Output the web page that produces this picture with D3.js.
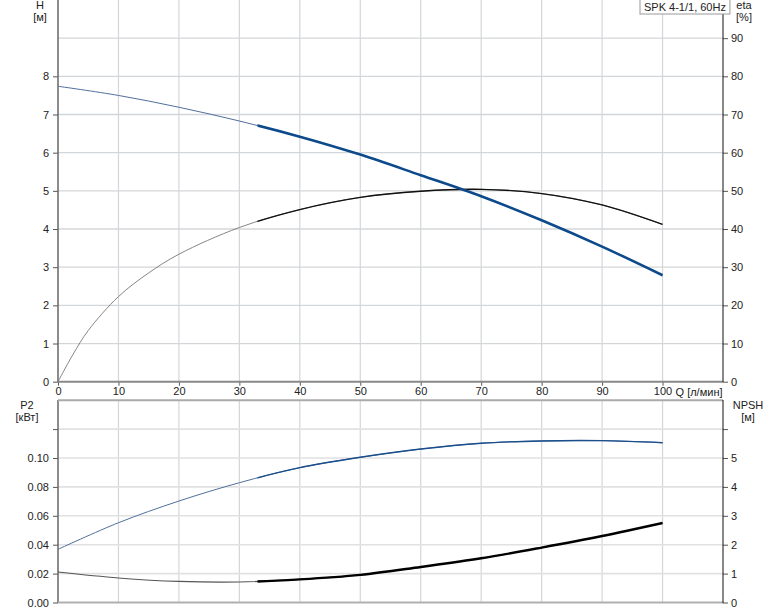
<!DOCTYPE html>
<html><head><meta charset="utf-8">
<script src="https://cdn.jsdelivr.net/npm/d3@7"></script>
<style>
body{margin:0;background:#fff;}
svg{display:block;font-family:"Liberation Sans",Arial,sans-serif;}
</style></head>
<body>
<svg id="c" width="774" height="611"></svg>
<script>
// ---- data ----
const qTicks = [0,10,20,30,40,50,60,70,80,90,100];
const qValues = [0,10,20,30,40,50,60,70,80,90,100];
const headValues = [7.74,7.50,7.19,6.83,6.42,5.95,5.41,4.86,4.23,3.54,2.79];
const etaQ = [0,2.5,5,10,15,20,30,40,50,60,70,80,90,100];
const etaValues = [0,7.2,13.4,22.3,28.5,33.4,40.4,45.1,48.3,49.9,50.4,49.3,46.3,41.2];
const p2Values = [0.0368,0.0552,0.0702,0.0829,0.0933,0.1005,0.1062,0.1102,0.1118,0.1120,0.1106];
const npshValues = [1.055,0.85,0.73,0.71,0.80,0.955,1.23,1.53,1.90,2.30,2.75];
const opStart = 33; // start of the bold operating range
const hTicks = [0,1,2,3,4,5,6,7,8];
const etaTicks = [0,10,20,30,40,50,60,70,80,90];
const p2Ticks = [0,0.02,0.04,0.06,0.08,0.10,0.12];
const npshTicks = [0,1,2,3,4,5,6];
const title = "SPK 4-1/1, 60Hz";

// ---- layout ----
const svg = d3.select("#c");
const L = 58, R = 723;
const x = d3.scaleLinear().domain([0,110]).range([L, R]);
const yH = d3.scaleLinear().domain([0,10]).range([381.7, 0]);
const yEta = d3.scaleLinear().domain([0,100]).range([381.7, 0]);
const yP2 = d3.scaleLinear().domain([0,0.14]).range([602.5, 400.2]);
const yN = d3.scaleLinear().domain([0,7]).range([602.5, 400.2]);

const gridC = "#d3d6d9";
function vgrid(y0,y1){
  svg.append("g").selectAll("line").data(qTicks.filter(d=>d>0)).join("line")
    .attr("x1",d=>x(d)).attr("x2",d=>x(d)).attr("y1",y0).attr("y2",y1)
    .attr("stroke",gridC).attr("stroke-width",1.2);
}
vgrid(0,381.7); vgrid(400,602.5);
svg.append("g").selectAll("line").data(d3.range(1,10)).join("line")
  .attr("x1",L).attr("x2",R).attr("y1",d=>yH(d)).attr("y2",d=>yH(d))
  .attr("stroke",gridC).attr("stroke-width",1.3);
svg.append("g").selectAll("line").data(npshTicks.filter(d=>d>0)).join("line")
  .attr("x1",L).attr("x2",R).attr("y1",d=>yN(d)).attr("y2",d=>yN(d))
  .attr("stroke","#e1e1e1").attr("stroke-width",1.6);

const fs = "11px";
function styleAxis(g){
  g.select(".domain").remove();
  g.selectAll(".tick line").attr("stroke","#555");
  g.selectAll("text").attr("font-size",fs).attr("fill","#222").attr("font-family","Liberation Sans, Arial, sans-serif");
}
function leftAxis(scale, ticks, fmt, labelSkip){
  styleAxis(svg.append("g").attr("transform",`translate(${L},0)`)
    .call(d3.axisLeft(scale).tickValues(ticks).tickSize(5).tickPadding(4)
      .tickFormat(d=>labelSkip.includes(d)?"":fmt(d))));
}
function rightAxis(scale, ticks, fmt, labelSkip){
  styleAxis(svg.append("g").attr("transform",`translate(${R},0)`)
    .call(d3.axisRight(scale).tickValues(ticks).tickSize(5).tickPadding(3)
      .tickFormat(d=>labelSkip.includes(d)?"":fmt(d))));
}
leftAxis(yH, hTicks, d3.format("d"), []);
rightAxis(yEta, etaTicks, d3.format("d"), []);
leftAxis(yP2, p2Ticks, d3.format(".2f"), [0.12]);
rightAxis(yN, npshTicks, d3.format("d"), [6]);

styleAxis(svg.append("g").attr("transform","translate(0,381.7)")
  .call(d3.axisBottom(x).tickValues(qTicks).tickSize(4).tickPadding(2).tickFormat(d3.format("d"))));
svg.append("text").attr("x",x(100)+13).attr("y",396).attr("font-size",fs).attr("fill","#222").text("Q [л/мин]");

// axis lines
svg.append("line").attr("x1",L).attr("x2",L).attr("y1",0).attr("y2",382).attr("stroke","#666").attr("stroke-width",1.5);
svg.append("line").attr("x1",L).attr("x2",R).attr("y1",381.7).attr("y2",381.7).attr("stroke","#888").attr("stroke-width",2);
svg.append("line").attr("x1",R).attr("x2",R).attr("y1",0).attr("y2",382).attr("stroke","#111").attr("stroke-width",1);
svg.append("line").attr("x1",L).attr("x2",L).attr("y1",400).attr("y2",603).attr("stroke","#666").attr("stroke-width",1.5);
svg.append("line").attr("x1",L).attr("x2",R).attr("y1",400.2).attr("y2",400.2).attr("stroke","#aaa").attr("stroke-width",2);
svg.append("line").attr("x1",L).attr("x2",R).attr("y1",602.5).attr("y2",602.5).attr("stroke","#b0b0b0").attr("stroke-width",2);
svg.append("line").attr("x1",R).attr("x2",R).attr("y1",400).attr("y2",603).attr("stroke","#111").attr("stroke-width",1);

function t(xp,yp,s,anchor){svg.append("text").attr("x",xp).attr("y",yp).attr("font-size",fs).attr("fill","#222").attr("text-anchor",anchor||"middle").text(s);}
t(40,9,"H"); t(40,21,"[м]");
t(744,9,"eta"); t(744,21,"[%]");
t(27,409,"P2"); t(27,421,"[кВт]");
t(748,409,"NPSH"); t(748,421,"[м]");

const lb = svg.append("g");
const lt = lb.append("text").attr("x",644).attr("y",11).attr("font-size",fs).attr("fill","#222").text(title);
const bb = lt.node().getBBox();
lb.insert("rect","text").attr("x",bb.x-4).attr("y",-1).attr("width",bb.width+8).attr("height",15)
  .attr("fill","#fff").attr("stroke","#999").attr("stroke-width",1);

svg.append("clipPath").attr("id","op").append("rect")
  .attr("x",x(opStart)).attr("y",0).attr("width",x(100)-x(opStart)+5).attr("height",611);

function curve(xs, ys, yScale, colThin, wThin, colBold, wBold){
  const pts = xs.map((q,i)=>[q,ys[i]]);
  const line = d3.line().x(d=>x(d[0])).y(d=>yScale(d[1])).curve(d3.curveCatmullRom.alpha(0.5));
  svg.append("path").attr("d",line(pts)).attr("fill","none").attr("stroke",colThin).attr("stroke-width",wThin);
  svg.append("path").attr("d",line(pts)).attr("fill","none").attr("stroke",colBold).attr("stroke-width",wBold)
    .attr("clip-path","url(#op)");
}
curve(etaQ, etaValues, yEta, "#777", 0.9, "#111", 1.3);
curve(qValues, headValues, yH, "#50709c", 1, "#0d4a8c", 2.6);
curve(qValues, p2Values, yP2, "#50709c", 1, "#1a4f8c", 1.4);
curve(qValues, npshValues, yN, "#555", 1.1, "#000", 2.4);
</script>
</body></html>
